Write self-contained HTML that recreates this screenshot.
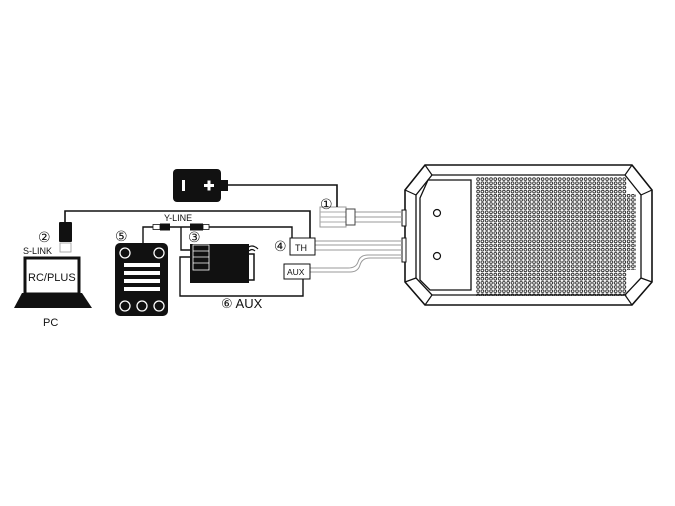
<!DOCTYPE html>
<html><head><meta charset="utf-8"><style>html,body{margin:0;padding:0;background:#fff}svg{display:block}text{font-family:"Liberation Sans","DejaVu Sans",sans-serif;fill:#111}</style></head>
<body>
<svg width="675" height="506" viewBox="0 0 675 506" xmlns="http://www.w3.org/2000/svg">
<defs>
<pattern id="dots" x="476" y="177" width="4.3" height="4.15" patternUnits="userSpaceOnUse">
<circle cx="2.1" cy="2.1" r="1.4" fill="none" stroke="#111" stroke-width="0.8"/>
</pattern>
</defs>
<!-- ESC -->
<path d="M425,165 L632,165 L652,190 L652,282 L632,305 L425,305 L405,282 L405,190 Z" fill="#fff" stroke="#111" stroke-width="1.6"/>
<path d="M432,175 L625,175 L641,195 L641,278 L625,295 L432,295 L416,278 L416,195 Z" fill="#fff" stroke="#111" stroke-width="1.3"/>
<path d="M405,190 L416,195 M405,282 L416,278 M652,190 L641,195 M652,282 L641,278 M425,165 L432,175 M632,165 L625,175 M425,305 L432,295 M632,305 L625,295" stroke="#111" stroke-width="1.2"/>
<path d="M428,180 L471,180 L471,290 L430,290 L420,280 L420,198 Z" fill="#fff" stroke="#111" stroke-width="1.3"/>
<circle cx="437" cy="213" r="3.5" fill="none" stroke="#111" stroke-width="1.2"/>
<circle cx="437" cy="256" r="3.5" fill="none" stroke="#111" stroke-width="1.2"/>
<path d="M476,177 L627,177 L627,194 L636,194 L636,270 L627,270 L627,296 L476,296 Z" fill="url(#dots)"/>
<rect x="402" y="210" width="4" height="16" fill="#fff" stroke="#111"/>
<rect x="402" y="238" width="4" height="24" fill="#fff" stroke="#111"/>
<!-- wires to ESC -->
<g stroke="#999" stroke-width="1" fill="none">
<path d="M355,212 L402,212 M355,217 L402,217 M355,222 L402,222"/>
<path d="M315,241 L402,241 M315,245 L402,245 M315,250 L402,250"/>
<path d="M310,268 L348,268 Q356,268 358,262 Q360,255 368,255 L402,255 M310,272 L350,272 Q358,272 360,265 Q362,258 370,258 L402,258"/>
</g>
<!-- connector 1 -->
<rect x="320" y="207" width="26" height="20" fill="#fff" stroke="#999"/>
<path d="M320,212 L346,212 M320,217 L346,217 M320,222 L346,222" stroke="#aaa"/>
<rect x="346" y="209" width="9" height="16" fill="#fff" stroke="#444"/>
<!-- battery -->
<rect x="173" y="169" width="48" height="33" rx="4" fill="#111"/>
<rect x="221" y="180" width="7" height="11" fill="#111"/>
<rect x="182" y="180" width="3" height="11" fill="#fff"/>
<path d="M204,185.5 h10 M209,180.5 v10" stroke="#fff" stroke-width="3"/>
<path d="M228,185 L337,185 L337,207" fill="none" stroke="#111" stroke-width="1.6"/>
<text x="320" y="209" font-size="14">①</text>
<!-- S-LINK wire -->
<path d="M65,222 L65,211 L310,211 L310,238" fill="none" stroke="#111" stroke-width="1.6"/>
<!-- TH & AUX boxes -->
<rect x="290" y="238" width="25" height="17" fill="#fff" stroke="#111"/>
<text x="295" y="251" font-size="9">TH</text>
<rect x="284" y="264" width="26" height="15" fill="#fff" stroke="#111"/>
<text x="287" y="275" font-size="8.5">AUX</text>
<text x="274" y="251" font-size="14">④</text>
<!-- Y-line -->
<path d="M143,243 L143,227 L292,227 L292,238" fill="none" stroke="#111" stroke-width="1.4"/>
<path d="M181,227 L181,250 L190,250" fill="none" stroke="#111" stroke-width="1.4"/>
<rect x="153" y="224.5" width="7" height="5" fill="#fff" stroke="#111" stroke-width="0.8"/>
<rect x="160" y="223.5" width="10" height="7" fill="#111"/>
<rect x="190" y="223.5" width="13" height="7" fill="#111"/>
<rect x="203" y="224.5" width="6" height="5" fill="#fff" stroke="#111" stroke-width="0.8"/>
<text x="164" y="221" font-size="9">Y-LINE</text>
<!-- AUX line -->
<path d="M303,279 L303,296 L180,296 L180,257 L190,257" fill="none" stroke="#111" stroke-width="1.4"/>
<text x="221" y="308" font-size="13">⑥ AUX</text>
<!-- receiver -->
<rect x="190" y="244" width="59" height="39" fill="#111"/>
<rect x="193" y="245" width="16" height="25" fill="#111" stroke="#fff" stroke-width="0.8"/>
<path d="M193,251 h16 M193,257 h16 M193,263 h16" stroke="#fff" stroke-width="0.8"/>
<path d="M249,254 L254,254 L254,280 L249,280" fill="none" stroke="#111" stroke-width="1.5"/>
<path d="M246,249 Q252,243 258,249 M249,251 Q252,248 255,251" fill="none" stroke="#111" stroke-width="1.2"/>
<text x="188" y="242" font-size="14">③</text>
<!-- controller 5 -->
<rect x="115" y="243" width="53" height="73" rx="5" fill="#111"/>
<circle cx="125" cy="253" r="5" fill="none" stroke="#fff" stroke-width="1.3"/>
<circle cx="159" cy="253" r="5" fill="none" stroke="#fff" stroke-width="1.3"/>
<rect x="124" y="263" width="36" height="4" fill="#fff"/>
<rect x="124" y="271" width="36" height="4" fill="#fff"/>
<rect x="124" y="279" width="36" height="4" fill="#fff"/>
<rect x="124" y="287" width="36" height="4" fill="#fff"/>
<circle cx="125" cy="306" r="5" fill="none" stroke="#fff" stroke-width="1.3"/>
<circle cx="142" cy="306" r="5" fill="none" stroke="#fff" stroke-width="1.3"/>
<circle cx="159" cy="306" r="5" fill="none" stroke="#fff" stroke-width="1.3"/>
<text x="115" y="241" font-size="14">⑤</text>
<!-- USB -->
<rect x="59" y="222" width="13" height="20" rx="1" fill="#111"/>
<rect x="60" y="243" width="11" height="9" fill="#fff" stroke="#999" stroke-width="0.8"/>
<text x="38" y="242" font-size="14">②</text>
<text x="23" y="254" font-size="9">S-LINK</text>
<!-- PC -->
<rect x="25" y="258" width="54" height="36" fill="#fff" stroke="#111" stroke-width="3"/>
<path d="M22,293 L82,293 L92,308 L14,308 Z" fill="#111"/>
<text x="28" y="281" font-size="11">RC/PLUS</text>
<text x="43" y="326" font-size="11">PC</text>
</svg>
</body></html>
